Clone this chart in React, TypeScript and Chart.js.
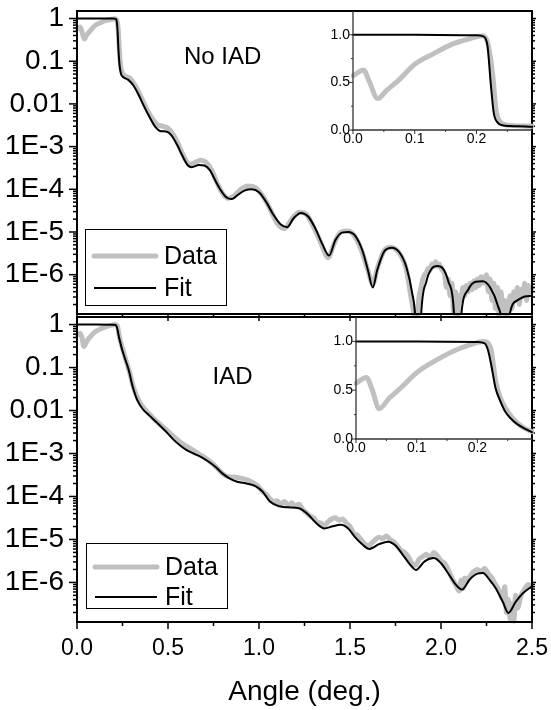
import React, { useEffect, useRef } from 'react';
import { Chart, registerables } from 'chart.js';
Chart.register(...registerables);

const FONT = "'Liberation Sans', Arial, Helvetica, sans-serif";

// ---------- tick labels ----------
const angleMajorTicks = [0, 0.5, 1, 1.5, 2, 2.5];
const angleMinorTicks = [0.25, 0.75, 1.25, 1.75, 2.25];
const logMajorTicks = [1, 0.1, 0.01, 1e-3, 1e-4, 1e-5, 1e-6];
const insetXMajorTicks = [0, 0.1, 0.2];
const insetXMinorTicks = [0.05, 0.15, 0.25];
const insetYMajorTicks = [0, 0.5, 1];
const insetYMinorTicks = [0.25, 0.75];

// ---------- series: [angle (deg), intensity] ----------
const noIadFit: [number, number][] = [
  [0, 1], [0.1, 1], [0.2, 0.995], [0.212, 0.98], [0.218, 0.88], [0.223, 0.5], [0.228, 0.18],
  [0.234, 0.08], [0.242, 0.05], [0.255, 0.042], [0.28, 0.037], [0.31, 0.027], [0.34, 0.016],
  [0.37, 8.5e-3], [0.4, 4.8e-3], [0.43, 2.9e-3], [0.46, 2.3e-3], [0.49, 2.25e-3], [0.52, 1.8e-3],
  [0.55, 1.1e-3], [0.58, 6.0e-4], [0.61, 3.6e-4], [0.63, 3.3e-4], [0.67, 3.7e-4], [0.7, 3.6e-4],
  [0.73, 2.8e-4], [0.76, 1.6e-4], [0.79, 9.5e-5], [0.82, 6.5e-5], [0.85, 5.9e-5], [0.88, 7.2e-5],
  [0.92, 9.3e-5], [0.96, 1.0e-4], [1.0, 8.5e-5], [1.04, 5.0e-5], [1.08, 2.5e-5], [1.12, 1.5e-5],
  [1.155, 1.3e-5], [1.19, 2.1e-5], [1.23, 2.8e-5], [1.27, 2.3e-5], [1.31, 1.2e-5], [1.35, 5e-6],
  [1.385, 2.8e-6], [1.42, 6.5e-6], [1.46, 9.8e-6], [1.49, 1.0e-5], [1.53, 8e-6], [1.57, 3.5e-6],
  [1.6, 1.2e-6], [1.625, 5e-7], [1.65, 1.3e-6], [1.69, 3.6e-6], [1.73, 4.3e-6], [1.77, 3.4e-6],
  [1.81, 1.5e-6], [1.84, 4e-7], [1.86, 8e-8], [1.875, 1e-9], [1.89, 1e-7], [1.92, 7e-7],
  [1.95, 1.4e-6], [1.98, 1.6e-6], [2.01, 1.4e-6], [2.04, 7e-7], [2.07, 1.5e-7], [2.09, 1e-9],
  [2.11, 1e-7], [2.15, 4.5e-7], [2.19, 6.8e-7], [2.23, 7e-7], [2.27, 5e-7], [2.31, 2e-7],
  [2.34, 4e-8], [2.355, 1e-9], [2.375, 1e-7], [2.42, 2.5e-7], [2.46, 3.1e-7], [2.5, 3.2e-7],
];

const noIadData: [number, number][] = [
  [0, 0.57], [0.017, 0.63], [0.027, 0.5], [0.04, 0.33], [0.055, 0.42], [0.075, 0.53], [0.1, 0.69],
  [0.13, 0.8], [0.16, 0.9], [0.19, 0.96], [0.21, 0.99], [0.218, 0.92], [0.226, 0.6], [0.232, 0.2],
  [0.238, 0.09], [0.247, 0.055], [0.26, 0.046], [0.29, 0.04], [0.32, 0.027], [0.35, 0.015],
  [0.38, 8e-3], [0.41, 4.8e-3], [0.44, 3.3e-3], [0.47, 3.0e-3], [0.5, 2.7e-3], [0.53, 1.9e-3],
  [0.56, 1.05e-3], [0.59, 5.5e-4], [0.62, 3.8e-4], [0.65, 4.3e-4], [0.68, 4.8e-4], [0.71, 4.3e-4],
  [0.74, 2.8e-4], [0.77, 1.4e-4], [0.8, 8e-5], [0.83, 6.2e-5], [0.86, 6.8e-5], [0.9, 1.0e-4],
  [0.94, 1.2e-4], [0.98, 1.1e-4], [1.02, 7e-5], [1.06, 3.5e-5], [1.1, 1.6e-5], [1.14, 1.2e-5],
  [1.18, 2.0e-5], [1.22, 2.9e-5], [1.26, 2.6e-5], [1.3, 1.3e-5], [1.34, 5.5e-6], [1.38, 2.5e-6],
  [1.41, 5e-6], [1.45, 1.0e-5], [1.49, 1.05e-5], [1.52, 8.5e-6], [1.56, 4e-6], [1.6, 1.2e-6],
  [1.625, 6e-7], [1.65, 1.4e-6], [1.69, 3.8e-6], [1.72, 4.4e-6], [1.75, 4e-6], [1.78, 2.8e-6],
  [1.81, 1.3e-6], [1.83, 4e-7], [1.85, 1.26e-7], [1.86, 6.3e-8], [1.87, 1.26e-7], [1.88, 3.2e-7],
  [1.89, 5e-7], [1.9, 7.9e-7], [1.91, 1e-6], [1.92, 1.12e-6], [1.93, 1.41e-6], [1.94, 1.26e-6],
  [1.95, 1.78e-6], [1.96, 1.58e-6], [1.97, 2e-6], [1.98, 1.58e-6], [1.99, 1.78e-6], [2.0, 1.41e-6],
  [2.01, 1.26e-6], [2.02, 1e-6], [2.03, 5e-7], [2.04, 7.9e-7], [2.05, 3.2e-7], [2.06, 6.3e-7],
  [2.07, 1.26e-7], [2.08, 4e-7], [2.09, 1e-7], [2.1, 3.2e-7], [2.11, 2.5e-7], [2.12, 5e-7],
  [2.13, 3.2e-7], [2.14, 5.6e-7], [2.15, 4e-7], [2.16, 6.3e-7], [2.17, 4.5e-7], [2.18, 7.1e-7],
  [2.19, 5e-7], [2.2, 7.9e-7], [2.21, 5.6e-7], [2.22, 8.9e-7], [2.23, 6.3e-7], [2.24, 7.9e-7],
  [2.25, 1e-6], [2.26, 4e-7], [2.27, 7.9e-7], [2.28, 2.5e-7], [2.29, 6.3e-7], [2.3, 1.6e-7],
  [2.31, 5e-7], [2.32, 1e-7], [2.33, 4e-7], [2.34, 1.26e-7], [2.35, 2.5e-7], [2.36, 1e-7],
  [2.37, 1.6e-7], [2.38, 3.2e-7], [2.39, 1.6e-7], [2.4, 4e-7], [2.41, 2.5e-7], [2.42, 5e-7],
  [2.43, 2e-7], [2.44, 4.5e-7], [2.45, 3.2e-7], [2.46, 6.3e-7], [2.47, 2.5e-7], [2.48, 5.6e-7],
  [2.49, 4e-7], [2.5, 5e-7],
];

const iadFit: [number, number][] = [
  [0, 1], [0.1, 1], [0.2, 0.995], [0.212, 0.98], [0.218, 0.9], [0.224, 0.72], [0.23, 0.52],
  [0.237, 0.4], [0.245, 0.29], [0.255, 0.21], [0.265, 0.155], [0.28, 0.1], [0.29, 0.07],
  [0.3, 0.045], [0.315, 0.027], [0.33, 0.018], [0.36, 0.011], [0.4, 7.5e-3], [0.44, 5.2e-3],
  [0.49, 3.2e-3], [0.53, 2.1e-3], [0.57, 1.5e-3], [0.61, 1.15e-3], [0.64, 1.0e-3], [0.68, 8.3e-4],
  [0.72, 6.6e-4], [0.76, 4.9e-4], [0.8, 3.4e-4], [0.84, 2.6e-4], [0.88, 2.2e-4], [0.93, 2.0e-4],
  [0.98, 1.75e-4], [1.02, 1.3e-4], [1.06, 7.6e-5], [1.11, 5.9e-5], [1.16, 5.6e-5], [1.22, 5.3e-5],
  [1.27, 3.8e-5], [1.31, 2.5e-5], [1.36, 1.8e-5], [1.4, 2.0e-5], [1.45, 2.2e-5], [1.49, 1.8e-5],
  [1.53, 1.1e-5], [1.57, 7.5e-6], [1.605, 6e-6], [1.66, 7.8e-6], [1.71, 8.9e-6], [1.75, 7.2e-6],
  [1.79, 4.4e-6], [1.83, 2.6e-6], [1.862, 1.95e-6], [1.91, 3.1e-6], [1.96, 3.7e-6], [2.0, 2.8e-6],
  [2.045, 1.5e-6], [2.08, 9e-7], [2.115, 6.8e-7], [2.16, 1.2e-6], [2.2, 1.6e-6], [2.23, 1.65e-6],
  [2.27, 1.1e-6], [2.3, 7.4e-7], [2.34, 3.5e-7], [2.37, 1.95e-7], [2.41, 3.5e-7], [2.45, 5.6e-7],
  [2.5, 8.1e-7],
];

const iadData: [number, number][] = [
  [0, 0.57], [0.017, 0.63], [0.027, 0.5], [0.038, 0.31], [0.055, 0.42], [0.075, 0.53], [0.1, 0.68],
  [0.13, 0.8], [0.16, 0.9], [0.19, 0.97], [0.21, 1.0], [0.222, 0.93], [0.23, 0.6], [0.238, 0.42],
  [0.248, 0.3], [0.26, 0.2], [0.275, 0.12], [0.29, 0.075], [0.31, 0.035], [0.34, 0.017],
  [0.37, 0.011], [0.41, 7.3e-3], [0.45, 5e-3], [0.49, 3.6e-3], [0.53, 2.5e-3], [0.57, 1.8e-3],
  [0.61, 1.4e-3], [0.65, 1.1e-3], [0.69, 8.7e-4], [0.73, 6.5e-4], [0.77, 4.6e-4], [0.8, 3.4e-4],
  [0.83, 2.9e-4], [0.87, 2.8e-4], [0.91, 2.6e-4], [0.95, 2.3e-4], [0.99, 1.8e-4], [1.02, 1.3e-4],
  [1.04, 1.12e-4], [1.06, 8.9e-5], [1.08, 7.6e-5], [1.1, 7.9e-5], [1.12, 6.6e-5], [1.14, 7.6e-5],
  [1.16, 6.3e-5], [1.18, 7.1e-5], [1.2, 6.0e-5], [1.22, 6.6e-5], [1.24, 5.0e-5], [1.26, 4.2e-5],
  [1.28, 3.5e-5], [1.3, 3.2e-5], [1.32, 2.5e-5], [1.34, 2.4e-5], [1.36, 2.1e-5], [1.38, 2.6e-5],
  [1.4, 3.0e-5], [1.42, 3.2e-5], [1.44, 2.8e-5], [1.46, 3.0e-5], [1.48, 2.4e-5], [1.5, 2.0e-5],
  [1.52, 1.4e-5], [1.54, 1.26e-5], [1.56, 1.0e-5], [1.58, 7.9e-6], [1.6, 7.1e-6], [1.62, 8.3e-6],
  [1.64, 1.0e-5], [1.66, 1.12e-5], [1.68, 1.05e-5], [1.7, 1.2e-5], [1.72, 1.0e-5], [1.74, 8.9e-6],
  [1.76, 7.1e-6], [1.78, 5.6e-6], [1.8, 5.0e-6], [1.82, 4.0e-6], [1.84, 2.8e-6], [1.86, 2.5e-6],
  [1.88, 3.5e-6], [1.9, 4.0e-6], [1.92, 4.5e-6], [1.94, 3.8e-6], [1.96, 5.0e-6], [1.98, 4.2e-6],
  [2.0, 3.2e-6], [2.02, 2.8e-6], [2.04, 2.0e-6], [2.06, 1.26e-6], [2.08, 8.9e-7], [2.1, 6.3e-7],
  [2.11, 1.12e-6], [2.12, 7.1e-7], [2.13, 1.26e-6], [2.14, 1.12e-6], [2.16, 1.4e-6], [2.18, 1.8e-6],
  [2.2, 2.0e-6], [2.22, 1.8e-6], [2.24, 2.1e-6], [2.26, 1.6e-6], [2.28, 1.26e-6], [2.3, 8.9e-7],
  [2.32, 6.3e-7], [2.34, 4.0e-7], [2.35, 7.9e-7], [2.36, 2.0e-7], [2.37, 4.0e-7], [2.38, 1.4e-7],
  [2.39, 3.2e-7], [2.4, 1.26e-7], [2.41, 5.0e-7], [2.42, 2.5e-7], [2.44, 5.0e-7], [2.46, 7.1e-7],
  [2.48, 8.9e-7], [2.5, 7.9e-7],
];

const Y_MIN = 1.2e-7;
const Y_MAX = 1.5;

function logMinorTicks(): number[] {
  const out: number[] = [];
  for (let e = -7; e <= 0; e++) {
    for (let k = 2; k <= 9; k++) {
      const v = k * Math.pow(10, e);
      if (v >= Y_MIN && v <= Y_MAX) out.push(v);
    }
  }
  return out;
}

function logLabel(v: number): string {
  const l = Math.log10(v);
  const r = Math.round(l);
  if (Math.abs(l - r) > 1e-6) return '';
  if (r === 0) return '1';
  if (r === -1) return '0.1';
  if (r === -2) return '0.01';
  if (r < -6 || r > 0) return '';
  return '1E' + r;
}

const framePlugin = {
  id: 'frame',
  afterDraw(chart: any, _args: any, o: any) {
    if (!o || !o.enabled) return;
    const { ctx, chartArea: a } = chart;
    const xs = chart.scales.x;
    const ys = chart.scales.y;
    const seg = (x1: number, y1: number, x2: number, y2: number) => {
      ctx.beginPath();
      ctx.moveTo(x1, y1);
      ctx.lineTo(x2, y2);
      ctx.stroke();
    };
    ctx.save();
    ctx.strokeStyle = o.color;
    ctx.lineWidth = o.tickWidth;
    for (const v of o.yMajor) {
      const p = ys.getPixelForValue(v);
      seg(a.left - o.leftMajor, p, a.left, p);
      if (o.rightMajor) seg(a.right, p, a.right + o.rightMajor, p);
    }
    for (const v of o.yMinor) {
      const p = ys.getPixelForValue(v);
      seg(a.left - o.leftMinor, p, a.left, p);
      if (o.rightMinor) seg(a.right, p, a.right + o.rightMinor, p);
    }
    for (const v of o.xMajor) {
      const p = xs.getPixelForValue(v);
      seg(p, a.bottom, p, a.bottom + o.bottomMajor);
    }
    for (const v of o.xMinor) {
      const p = xs.getPixelForValue(v);
      seg(p, a.bottom, p, a.bottom + o.bottomMinor);
    }
    ctx.lineWidth = o.lineWidth;
    if (o.box) {
      ctx.strokeRect(a.left, a.top, a.right - a.left, a.bottom - a.top);
    } else {
      seg(a.left, a.top, a.left, a.bottom + o.lineWidth / 2);
      seg(a.left - o.lineWidth / 2, a.bottom, a.right, a.bottom);
    }
    if (o.label) {
      ctx.fillStyle = '#000';
      ctx.font = `${o.label.size}px ${FONT}`;
      ctx.textAlign = 'center';
      ctx.textBaseline = 'middle';
      ctx.fillText(o.label.text, xs.getPixelForValue(o.label.x), ys.getPixelForValue(o.label.y));
    }
    if (o.legend) {
      const L = o.legend;
      const left = a.left + L.dx;
      const top = a.bottom - L.top;
      const bottom = a.bottom - L.bottom;
      ctx.lineWidth = 1;
      ctx.strokeStyle = '#000';
      ctx.strokeRect(Math.round(left) + 0.5, Math.round(top) + 0.5, L.width, Math.round(bottom - top));
      chart.data.datasets.forEach((ds: any, i: number) => {
        const y = a.bottom - L.rows[i];
        ctx.save();
        ctx.strokeStyle = ds.borderColor;
        ctx.lineWidth = ds.borderWidth;
        ctx.lineCap = ds.borderWidth > 3 ? 'round' : 'butt';
        seg(left + 9, y, left + 71, y);
        ctx.restore();
        ctx.fillStyle = '#000';
        ctx.font = `${L.fontSize}px ${FONT}`;
        ctx.textAlign = 'left';
        ctx.textBaseline = 'middle';
        ctx.fillText(ds.label, left + 79, y + 1);
      });
    }
    ctx.restore();
  },
};

function datasets(data: [number, number][], fit: [number, number][]) {
  return [
    {
      label: 'Data',
      data: data.map(([x, y]) => ({ x, y })),
      borderColor: '#c0c0c0',
      borderWidth: 5,
      order: 1,
      clip: 2,
    },
    {
      label: 'Fit',
      data: fit.map(([x, y]) => ({ x, y })),
      borderColor: '#000000',
      borderWidth: 2,
      order: 0,
      clip: 1,
    },
  ];
}

const commonElements = {
  point: { radius: 0 },
  line: { cubicInterpolationMode: 'monotone', borderCapStyle: 'round', borderJoinStyle: 'round', fill: false },
};

const noScalePadding = (s: any) => {
  s.paddingTop = 0;
  s.paddingBottom = 0;
  s.paddingLeft = 0;
  s.paddingRight = 0;
};

function mainConfig(opts: any) {
  return {
    type: 'line',
    data: { datasets: datasets(opts.data, opts.fit) },
    plugins: [framePlugin],
    options: {
      responsive: false,
      maintainAspectRatio: false,
      animation: false,
      devicePixelRatio: 1,
      events: [],
      layout: { padding: opts.padding },
      elements: commonElements,
      plugins: {
        legend: { display: false },
        tooltip: { enabled: false },
        frame: {
          enabled: true,
          box: true,
          color: '#000',
          lineWidth: 2,
          tickWidth: 1.5,
          xMajor: angleMajorTicks,
          xMinor: angleMinorTicks,
          yMajor: logMajorTicks,
          yMinor: logMinorTicks(),
          leftMajor: 8,
          leftMinor: 4,
          rightMajor: 4,
          rightMinor: 3,
          bottomMajor: 7,
          bottomMinor: 4,
          label: opts.label,
          legend: opts.legend,
        },
      },
      scales: {
        x: {
          type: 'linear',
          min: 0,
          max: 2.5,
          display: opts.showX,
          afterFit: (s: any) => {
            s.height = opts.showX ? 88 : 0;
            noScalePadding(s);
          },
          grid: { display: false, drawTicks: false },
          border: { display: false },
          ticks: {
            stepSize: 0.5,
            padding: 13,
            color: '#000',
            font: { size: 23, family: FONT },
            callback: (v: number) => (angleMajorTicks.some((t) => Math.abs(t - v) < 1e-9) ? v.toFixed(1) : ''),
          },
          title: {
            display: true,
            text: 'Angle (deg.)',
            color: '#000',
            font: { size: 28, family: FONT },
            padding: { top: 0, bottom: 1 },
          },
        },
        y: {
          type: 'logarithmic',
          min: Y_MIN,
          max: Y_MAX,
          afterFit: (s: any) => {
            s.width = 77;
            noScalePadding(s);
          },
          grid: { display: false, drawTicks: false },
          border: { display: false },
          ticks: {
            autoSkip: false,
            padding: 13,
            color: '#000',
            font: { size: 28, family: FONT },
            callback: (v: number) => logLabel(v),
          },
        },
      },
    },
  };
}

function insetConfig(opts: any) {
  return {
    type: 'line',
    data: { datasets: datasets(opts.data, opts.fit) },
    plugins: [framePlugin],
    options: {
      responsive: false,
      maintainAspectRatio: false,
      animation: false,
      devicePixelRatio: 1,
      events: [],
      layout: { padding: opts.padding },
      elements: commonElements,
      plugins: {
        legend: { display: false },
        tooltip: { enabled: false },
        frame: {
          enabled: true,
          box: false,
          color: '#333',
          lineWidth: 1.3,
          tickWidth: 1,
          xMajor: insetXMajorTicks,
          xMinor: insetXMinorTicks,
          yMajor: insetYMajorTicks,
          yMinor: insetYMinorTicks,
          leftMajor: 4,
          leftMinor: 2,
          rightMajor: 0,
          rightMinor: 0,
          bottomMajor: 4,
          bottomMinor: 2,
        },
      },
      scales: {
        x: {
          type: 'linear',
          min: 0,
          max: 0.29,
          afterFit: (s: any) => {
            s.height = opts.xHeight;
            noScalePadding(s);
          },
          grid: { display: false, drawTicks: false },
          border: { display: false },
          ticks: {
            stepSize: 0.1,
            padding: 1,
            color: '#000',
            font: { size: 14, family: FONT },
            callback: (v: number) => (insetXMajorTicks.some((t) => Math.abs(t - v) < 1e-9) ? v.toFixed(1) : ''),
          },
        },
        y: {
          type: 'linear',
          min: 0,
          max: 1.25,
          afterFit: (s: any) => {
            s.width = opts.yWidth;
            noScalePadding(s);
          },
          grid: { display: false, drawTicks: false },
          border: { display: false },
          ticks: {
            stepSize: 0.25,
            autoSkip: false,
            padding: 3,
            color: '#000',
            font: { size: 14, family: FONT },
            callback: (v: number) => (insetYMajorTicks.some((t) => Math.abs(t - v) < 1e-9) ? v.toFixed(1) : ''),
          },
        },
      },
    },
  };
}

const canvasStyle = (left: number, top: number, w: number, h: number): React.CSSProperties => ({
  position: 'absolute',
  left,
  top,
  width: w,
  height: h,
});

export default function App() {
  const topRef = useRef<HTMLCanvasElement>(null);
  const botRef = useRef<HTMLCanvasElement>(null);
  const topInsetRef = useRef<HTMLCanvasElement>(null);
  const botInsetRef = useRef<HTMLCanvasElement>(null);

  useEffect(() => {
    Chart.defaults.font.family = FONT;
    Chart.defaults.color = '#000';
    const charts: Chart[] = [];
    charts.push(
      new Chart(topRef.current as HTMLCanvasElement, mainConfig({
        data: noIadData,
        fit: noIadFit,
        showX: false,
        padding: { left: 0, right: 19, top: 11, bottom: 16 },
        label: { text: 'No IAD', x: 0.8, y: 0.12, size: 24 },
        legend: { dx: 8, width: 141, top: 85, bottom: 9, rows: [58, 26], fontSize: 25 },
      }) as any),
    );
    charts.push(
      new Chart(botRef.current as HTMLCanvasElement, mainConfig({
        data: iadData,
        fit: iadFit,
        showX: true,
        padding: { left: 0, right: 19, top: 17, bottom: 0 },
        label: { text: 'IAD', x: 0.855, y: 0.058, size: 24 },
        legend: { dx: 9, width: 141, top: 79, bottom: 14, rows: [55, 25], fontSize: 25 },
      }) as any),
    );
    charts.push(
      new Chart(topInsetRef.current as HTMLCanvasElement, insetConfig({
        data: noIadData,
        fit: noIadFit,
        padding: { left: 0, right: 19, top: 11, bottom: 0 },
        yWidth: 63,
        xHeight: 20,
      }) as any),
    );
    charts.push(
      new Chart(botInsetRef.current as HTMLCanvasElement, insetConfig({
        data: iadData,
        fit: iadFit,
        padding: { left: 0, right: 19, top: 17, bottom: 0 },
        yWidth: 66,
        xHeight: 21,
      }) as any),
    );
    return () => charts.forEach((c) => c.destroy());
  }, []);

  return (
    <div style={{ position: 'absolute', left: 0, top: 0, width: 551, height: 710, background: '#fff' }}>
      <canvas ref={topRef} width={551} height={330} style={canvasStyle(0, 0, 551, 330)} />
      <canvas ref={botRef} width={551} height={410} style={canvasStyle(0, 300, 551, 410)} />
      <canvas ref={topInsetRef} width={261} height={150} style={canvasStyle(290, 0, 261, 150)} />
      <canvas ref={botInsetRef} width={261} height={160} style={canvasStyle(290, 300, 261, 160)} />
    </div>
  );
}
